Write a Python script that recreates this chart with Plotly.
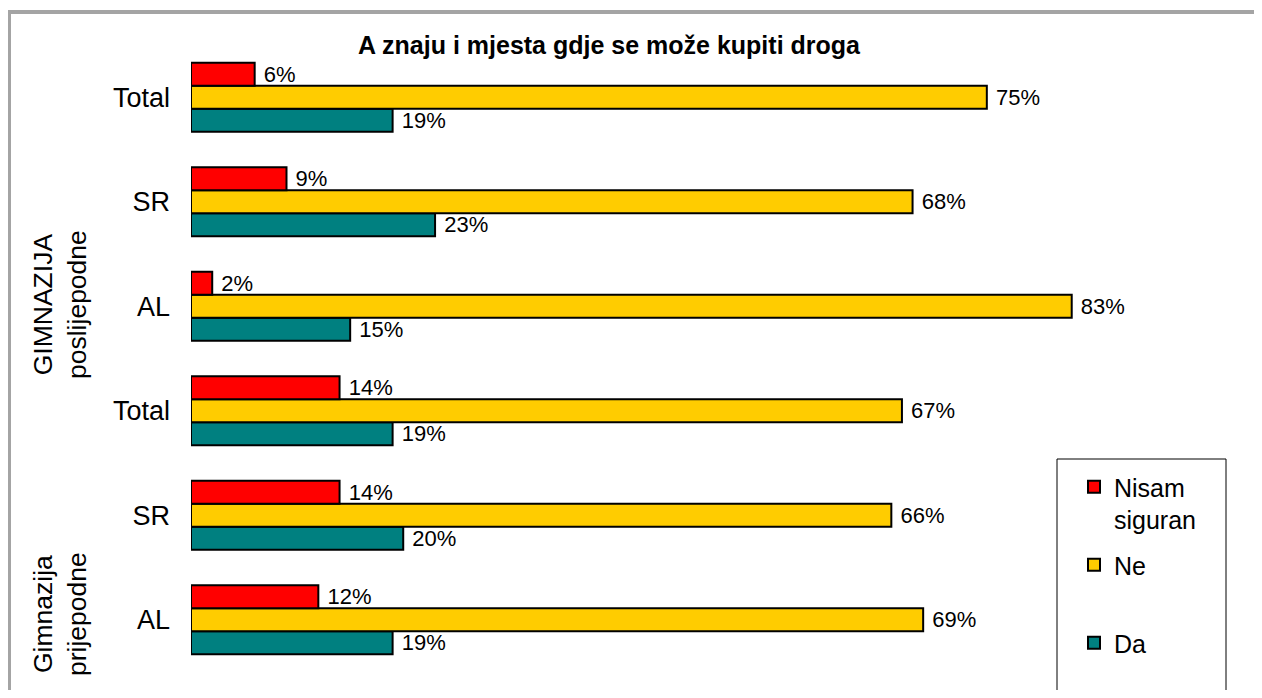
import plotly.graph_objects as go

# categories bottom -> top
categories = ["AL", "SR", "Total", "AL", "SR", "Total"]
nisam_siguran = [12, 14, 14, 2, 9, 6]
ne = [69, 66, 67, 83, 68, 75]
da = [19, 20, 19, 15, 23, 19]
group_labels = ["Gimnazija<br>prijepodne", "GIMNAZIJA<br>poslijepodne"]
title = "A znaju i mjesta gdje se može kupiti droga"

# page has an 8px body margin, so the figure is drawn 8px in and kept smaller
OFF = 8
W, H = 1262 - 2 * OFF, 698 - 2 * OFF
L, R, T = 191 - OFF, 116 - OFF, 45 - OFF
B = H - (672 - OFF)
pw, ph = W - L - R, H - T - B


def px_x(p):
    # page pixel -> paper x
    return (p - OFF - L) / pw


def px_y(p):
    # page pixel -> paper y
    return (H - B - (p - OFF)) / ph


font = "Liberation Sans, Arial, sans-serif"
ypos = list(range(len(categories)))

fig = go.Figure()
for name, vals, col, rank in [
    ("Da", da, "#008080", 3),
    ("Ne<br>&nbsp;", ne, "#FFCC00", 2),
    ("Nisam<br>siguran", nisam_siguran, "#FF0000", 1),
]:
    fig.add_trace(
        go.Bar(
            y=ypos,
            x=vals,
            orientation="h",
            name=name,
            legendgroup=str(rank),
            legendrank=rank,
            marker=dict(color=col, line=dict(color="black", width=2)),
            text=vals,
            texttemplate=" %{x}%",
            textposition="outside",
            constraintext="none",
            cliponaxis=False,
            textfont=dict(size=22, color="black", family=font),
        )
    )

fig.update_layout(
    width=W,
    height=H,
    margin=dict(l=L, r=R, t=T, b=B),
    paper_bgcolor="white",
    plot_bgcolor="white",
    barmode="group",
    bargap=0.34,
    bargroupgap=0,
    font=dict(family=font, color="black"),
    title=dict(
        text="<b>" + title + "</b>",
        x=(609 - OFF) / W,
        xanchor="center",
        y=1 - (45 - OFF) / H,
        yanchor="middle",
        font=dict(size=25, family=font, color="black"),
    ),
    showlegend=True,
    legend=dict(
        x=px_x(1074),
        xanchor="left",
        y=px_y(464),
        yanchor="top",
        traceorder="grouped",
        tracegroupgap=10,
        valign="top",
        bgcolor="rgba(0,0,0,0)",
        font=dict(size=25, family=font, color="black"),
    ),
    xaxis=dict(range=[0, 90], visible=False, fixedrange=True),
    yaxis=dict(
        range=[-0.5, len(categories) - 0.5],
        tickvals=ypos,
        ticktext=categories,
        tickfont=dict(size=27, family=font, color="black"),
        ticklabelstandoff=20,
        showgrid=False,
        zeroline=False,
        showline=False,
    ),
)

# legend frame
fig.add_shape(
    type="rect",
    xref="paper",
    yref="paper",
    x0=px_x(1057),
    x1=px_x(1226),
    y0=px_y(696),
    y1=px_y(459),
    line=dict(color="black", width=1),
    fillcolor="white",
    layer="below",
)

# outer chart frame (top and left edges)
fig.add_shape(
    type="line", xref="paper", yref="paper",
    x0=px_x(7), x1=px_x(1270), y0=px_y(12), y1=px_y(12),
    line=dict(color="#a4a4a4", width=4), layer="below",
)
fig.add_shape(
    type="line", xref="paper", yref="paper",
    x0=px_x(9), x1=px_x(9), y0=px_y(10), y1=px_y(710),
    line=dict(color="#a4a4a4", width=4), layer="below",
)

# group labels on the category axis
for lbl, yc in zip(group_labels, [614, 305]):
    fig.add_annotation(
        text=lbl,
        xref="paper",
        yref="paper",
        x=px_x(60),
        y=px_y(yc),
        xanchor="center",
        yanchor="middle",
        textangle=-90,
        showarrow=False,
        font=dict(size=26.5, family=font, color="black"),
    )

fig.write_html("out.html")
